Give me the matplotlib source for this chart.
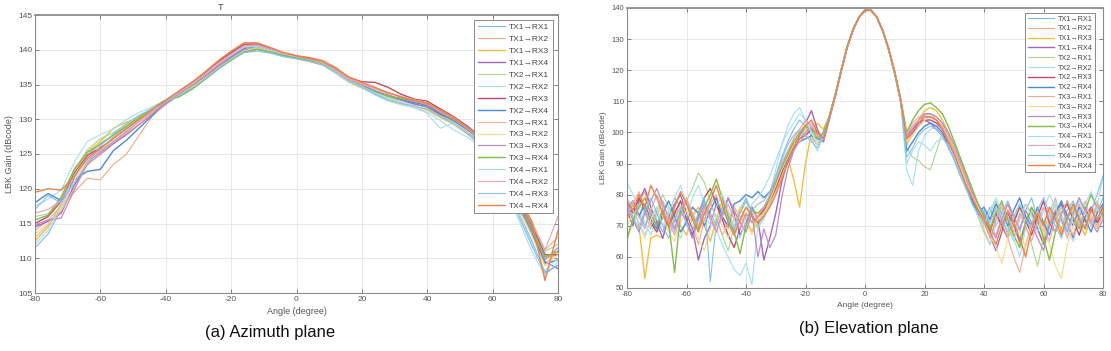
import matplotlib
matplotlib.use("Agg")
import matplotlib.pyplot as plt
import numpy as np

plt.rcParams['font.family'] = ['Liberation Sans', 'DejaVu Sans']
plt.rcParams['axes.unicode_minus'] = False

labels = ["TX1→RX1", "TX1→RX2", "TX1→RX3", "TX1→RX4",
          "TX2→RX1", "TX2→RX2", "TX2→RX3", "TX2→RX4",
          "TX3→RX1", "TX3→RX2", "TX3→RX3", "TX3→RX4",
          "TX4→RX1", "TX4→RX2", "TX4→RX3", "TX4→RX4"]
colors = ["#7fbbe6", "#f2a988", "#f0bf45", "#a468b8", "#add58e", "#a6def4",
          "#c24a68", "#4a8bd0", "#f0ad94", "#f6d98e", "#b98ccc", "#84bb4c",
          "#a8dcf2", "#e9a0b0", "#86c2ea", "#e8844a"]
widths = [0.8, 0.8, 1.0, 1.0, 0.8, 0.8, 1.0, 1.0,
          0.8, 0.8, 0.9, 1.0, 0.8, 0.8, 0.8, 1.0]

# ---------------- (a) Azimuth plane ----------------
az_angle = list(range(-80, 81, 4))
az_s1 = [111.5, 113.5, 117, 121.5, 124.8, 126.5, 127.8, 129, 130.2, 131.3, 132.6, 133.5, 134.6, 135.9, 137.3, 138.5, 139.6, 140, 139.6, 139.1, 138.7, 138.3, 137.8, 136.6, 135.3, 134.5, 133.8, 133.1, 132.6, 132.2, 131.7, 130.5, 129.6, 128.2, 126.7, 125.2, 121.5, 116.5, 112.5, 108, 109]
az_s2 = [114, 115.5, 117.5, 119.5, 121.5, 121.3, 123.5, 125, 127.8, 130.5, 132.1, 133.4, 134.8, 136.4, 138.1, 139.5, 140.6, 140.8, 140.2, 139.6, 139.2, 138.9, 138.5, 137.5, 136, 135.2, 134.4, 133.6, 132.8, 132.5, 132.2, 131.2, 130.3, 129, 127.5, 125.8, 122.3, 118, 114.5, 110, 110.5]
az_s3 = [112.5, 114.5, 117.8, 122.5, 125.3, 126.8, 128.7, 129.6, 130.1, 131.2, 132.4, 133.5, 134.8, 136.1, 137.6, 139, 140.4, 140.6, 140, 139.4, 139, 138.6, 138, 136.8, 135.4, 134.5, 133.6, 132.8, 132.2, 131.8, 131.5, 130.4, 129.5, 128.3, 126.9, 125.4, 122, 117.2, 113.5, 109, 111]
az_s4 = [114.5, 115.3, 116.5, 120.5, 123.5, 125, 126.5, 127.8, 129.3, 130.8, 132.3, 133.6, 134.9, 136.2, 137.5, 138.8, 140, 140.2, 139.8, 139.3, 138.8, 138.4, 138, 136.9, 135.5, 134.6, 133.7, 133.2, 132.7, 132.2, 131.8, 130.7, 129.8, 128.5, 127, 125.5, 122.2, 118, 114.2, 109.5, 108.5]
az_s5 = [116, 116.4, 118.5, 122.7, 125.6, 127.2, 128.1, 129.2, 130.5, 131.5, 132.6, 133.3, 134.5, 135.8, 137.2, 138.6, 139.8, 140.3, 139.9, 139.2, 138.8, 138.4, 137.9, 136.9, 135.7, 134.8, 133.9, 133.2, 132.9, 132.4, 131.9, 130.9, 129.6, 128.7, 127.4, 125.9, 122.8, 118.5, 115, 111, 112]
az_s6 = [117.5, 118.5, 119.8, 123.8, 126.8, 127.8, 128.6, 130, 131, 131.8, 132.8, 134.1, 135.2, 136.6, 138, 139.4, 140.7, 141, 140.4, 139.6, 139, 138.5, 138, 136.9, 135.5, 134.6, 133.5, 132.6, 132.1, 131.6, 131, 129.8, 128.5, 127.5, 126.2, 124.8, 120.5, 115.5, 111, 107.5, 109.5]
az_s7 = [115, 116, 118.2, 122.2, 124.8, 125.9, 127.2, 128.6, 130.1, 131.3, 132.7, 134, 135.3, 136.7, 138.3, 139.6, 140.8, 140.8, 140.1, 139.5, 139.1, 138.8, 138.3, 137.3, 136, 135.4, 135.3, 134.6, 133.6, 132.9, 132.6, 131.5, 130.4, 129.1, 127.6, 126, 122.7, 118.2, 114.8, 110.5, 110.5]
az_s8 = [118, 119.3, 118.3, 121.3, 122.5, 122.8, 125.5, 127, 128.8, 130.6, 132.6, 133.8, 135, 136.3, 137.8, 139, 140.2, 140.5, 140, 139.4, 139, 138.6, 138.2, 137.1, 135.7, 134.9, 134.1, 133.4, 132.9, 132.4, 132, 130.8, 129.9, 128.6, 127.2, 125.7, 122.1, 117.6, 113.8, 109.2, 109.8]
az_s9 = [113, 114.8, 116.8, 120, 123.4, 125.1, 126.7, 128, 129.4, 130.9, 132.5, 133.8, 135.1, 136.5, 138, 139.3, 140.5, 140.6, 140, 139.5, 139.1, 138.7, 138.3, 137.2, 135.9, 135.1, 134.4, 133.8, 133.3, 132.8, 132.4, 131.3, 130.3, 128.9, 127.5, 126.1, 123, 118.8, 115.3, 111.2, 113]
az_s10 = [113.5, 115, 117, 121.2, 124, 125.7, 127.5, 128.9, 130.2, 131.4, 132.5, 133.5, 134.6, 135.9, 137.4, 138.7, 139.9, 140.2, 139.8, 139.3, 138.9, 138.4, 137.9, 136.7, 135.3, 134.5, 133.7, 133, 132.4, 131.8, 131.2, 130.2, 129.2, 127.9, 126.5, 125, 121.6, 117, 113.2, 109, 110.5]
az_s11 = [114.8, 115.5, 115.8, 119.8, 123.8, 125.3, 126.8, 128.2, 129.8, 131.1, 132.4, 133.6, 134.9, 136.2, 137.7, 139.1, 140.3, 140.5, 140, 139.3, 138.9, 138.5, 138.1, 137, 135.6, 134.8, 134, 133.4, 133, 132.6, 132.1, 131, 130, 128.7, 127.3, 125.6, 122.2, 117.8, 114, 109.8, 111.5]
az_s12 = [115.5, 116.2, 118.8, 122.8, 125.2, 126.4, 127.7, 129, 130.3, 131.6, 132.8, 133.2, 134.3, 135.7, 137.2, 138.5, 139.7, 140.1, 139.7, 139.2, 138.8, 138.5, 138, 137, 135.6, 134.7, 133.9, 133.3, 133, 132.7, 132.3, 131.1, 130.1, 128.8, 127.4, 125.9, 122.4, 118, 114.4, 110.2, 111]
az_s13 = [112, 114, 117.5, 122, 124.5, 125.6, 127.1, 128.5, 129.8, 131.2, 132.6, 133.9, 135.1, 136.4, 137.9, 139.2, 140.4, 140.5, 139.9, 139.4, 139, 138.6, 138.1, 137, 135.6, 134.7, 133.8, 133.1, 132.6, 132, 130.8, 128.7, 129.5, 128.4, 127, 125.3, 121.2, 116.4, 112, 108.2, 110]
az_s14 = [116.5, 117, 118.3, 121.8, 124.2, 125.5, 126.8, 128.3, 129.7, 131.1, 132.5, 133.7, 135, 136.4, 137.9, 139.3, 140.6, 140.7, 140.1, 139.5, 139.1, 138.7, 138.2, 137.1, 135.8, 135, 134.5, 133.9, 133.2, 132.6, 132.2, 131.1, 130.1, 128.8, 127.3, 125.8, 122.5, 118.4, 115, 111.2, 116]
az_s15 = [117, 119, 118, 120.8, 123.7, 126.2, 127.9, 129.4, 130.6, 131.6, 132.5, 133.4, 134.5, 135.8, 137.3, 138.6, 139.6, 139.8, 139.5, 139, 138.7, 138.3, 137.8, 136.8, 135.5, 134.6, 133.6, 132.8, 132.3, 131.9, 131.4, 130.3, 129.4, 128, 126.4, 124.9, 120.8, 116, 111.8, 107.8, 109]
az_s16 = [119.5, 120, 119.8, 121.8, 124.4, 125.8, 127.3, 128.7, 130, 131.4, 132.7, 134, 135.3, 136.8, 138.4, 139.8, 141, 141, 140.3, 139.6, 139.1, 138.7, 138.3, 137.3, 136.1, 135.3, 134.6, 133.8, 133.2, 132.7, 132.3, 131.3, 130.2, 128.9, 127.5, 126, 122.8, 118.6, 115.3, 106.8, 114]
az_series = [az_s1, az_s2, az_s3, az_s4, az_s5, az_s6, az_s7, az_s8,
             az_s9, az_s10, az_s11, az_s12, az_s13, az_s14, az_s15, az_s16]

# ---------------- (b) Elevation plane ----------------
el_angle = list(range(-80, 81, 2))
el_s1 = [76, 78, 74, 70, 75, 72, 68, 74, 79, 76, 71, 66, 73, 78, 74, 70, 76, 72, 68, 75, 79, 74, 70,
         74, 80, 86, 92, 97, 101, 104, 102, 99, 96, 100,
         105, 112, 120, 127.5, 133, 137, 139.3, 139.2, 137, 132.5, 126.5, 119, 110,
         97, 99, 103, 105, 105, 104, 102, 98, 93, 88, 83, 78, 75,
         72, 76, 70, 74, 78, 73, 68, 75, 79, 72, 70, 76, 73, 69, 75, 78, 72, 70, 76, 74, 79]
el_s2 = [79, 74, 77, 81, 73, 70, 76, 69, 72, 78, 75, 70, 64, 72, 77, 80, 73, 69, 75, 71, 76, 73, 71,
         76, 79, 84, 89, 94, 97, 99, 101, 103, 100, 98,
         104.5, 111.5, 119.5, 127, 132.8, 136.8, 139.2, 139.4, 137.2, 132.8, 126.8, 119.5, 110.5,
         100, 102, 104, 105.5, 106, 105, 103, 99, 95, 90, 85, 80, 76,
         74, 70, 67, 73, 77, 71, 64, 70, 76, 73, 68, 74, 79, 72, 66, 73, 77, 71, 75, 78, 73]
el_s3 = [72, 77, 70, 53, 66, 67, 66, 72, 75, 70, 67, 73, 76, 70, 65, 72, 78, 74, 69, 76, 72, 68, 73,
         74, 78, 82, 87, 92, 85, 76, 90, 100, 103, 101,
         105, 112, 120, 127.5, 133.2, 137.2, 139.4, 139.3, 136.8, 132.3, 126.2, 118.7, 109.5,
         96, 100, 104, 107, 108, 107, 104, 100, 94, 89, 84, 79, 73,
         68, 64, 72, 76, 70, 66, 73, 77, 74, 69, 65, 71, 75, 68, 72, 76, 71, 67, 73, 70, 75]
el_s4 = [75, 70, 78, 82, 76, 71, 66, 73, 77, 80, 74, 69, 59, 66, 70, 77, 73, 79, 74, 67, 71, 76, 72,
         59, 66, 74, 84, 91, 96, 99, 103, 107, 101, 97,
         104, 111.8, 119.8, 127.3, 133, 137, 139.2, 139.2, 137, 132.6, 126.6, 119.2, 110.2,
         98, 100, 102, 104, 103, 101, 99, 96, 92, 87, 83, 78, 74,
         71, 67, 62, 68, 74, 70, 65, 71, 75, 69, 64, 70, 74, 77, 71, 66, 73, 76, 70, 72, 76]
el_s5 = [65, 72, 77, 74, 69, 75, 80, 76, 71, 73, 78, 82, 87, 84, 78, 72, 67, 62, 70, 74, 78, 73, 69,
         73, 77, 83, 88, 93, 96, 98, 100, 101, 99, 97,
         105.5, 112.3, 120.2, 127.6, 133.1, 137.1, 139.3, 139.3, 137.1, 132.7, 126.8, 119.4, 110.8,
         95, 92, 91, 89, 88, 94, 100, 98, 94, 89, 84, 79, 75,
         70, 74, 78, 73, 67, 72, 76, 70, 64, 57, 66, 72, 77, 73, 69, 75, 79, 74, 70, 76, 72]
el_s6 = [84, 80, 76, 71, 67, 73, 78, 75, 70, 66, 73, 79, 83, 77, 72, 69, 64, 60, 56, 54, 58, 51, 70,
         72, 80, 88, 96, 102, 106, 108, 104, 98, 94, 99,
         105, 112, 120, 127.5, 133, 137, 139.3, 139.3, 137, 132.5, 126.5, 119, 109.8,
         88, 83, 94, 99, 101, 102, 100, 97, 93, 88, 83, 78, 73,
         69, 64, 70, 75, 72, 66, 60, 69, 75, 71, 67, 73, 78, 74, 69, 65, 72, 77, 81, 76, 86]
el_s7 = [77, 74, 79, 75, 71, 68, 73, 70, 74, 78, 72, 67, 74, 79, 82, 77, 72, 67, 63, 69, 74, 71, 73,
         75, 78, 82, 87, 92, 96, 98, 99, 101, 100, 98,
         104.8, 111.7, 119.7, 127.4, 133, 137, 139.2, 139.3, 137.1, 132.6, 126.5, 119.1, 110.3,
         99, 101, 103, 104, 104, 103, 101, 97, 93, 88, 84, 79, 75,
         73, 68, 74, 70, 66, 71, 76, 72, 67, 73, 78, 71, 68, 74, 77, 72, 67, 73, 76, 71, 74]
el_s8 = [75, 78, 73, 77, 72, 69, 74, 78, 73, 68, 71, 76, 74, 70, 75, 79, 73, 70, 77, 78, 80, 79, 81,
         79, 81, 84, 88, 92, 95, 97, 98, 99, 98, 97,
         105.2, 112, 120, 127.6, 133.1, 137.1, 139.4, 139.3, 137, 132.5, 126.4, 118.9, 110,
         94, 97, 100, 102, 103, 102, 100, 96, 92, 87, 82, 78, 74,
         76, 72, 77, 74, 70, 75, 79, 73, 70, 76, 71, 67, 74, 78, 73, 70, 76, 72, 68, 74, 77]
el_s9 = [73, 77, 81, 76, 70, 74, 78, 72, 68, 75, 79, 74, 69, 72, 77, 73, 67, 71, 76, 73, 70, 75, 72,
         74, 77, 81, 86, 90, 94, 97, 99, 98, 96, 99,
         104.6, 111.6, 119.6, 127.2, 132.9, 136.9, 139.1, 139.3, 137.2, 132.9, 127, 119.6, 110.6,
         100, 103, 105, 106, 106, 104, 101, 97, 93, 88, 84, 79, 76,
         73, 69, 75, 71, 66, 60, 55, 64, 71, 75, 70, 65, 72, 76, 71, 67, 74, 78, 72, 69, 74]
el_s10 = [70, 74, 71, 66, 72, 76, 73, 68, 65, 71, 75, 70, 66, 62, 69, 73, 70, 66, 72, 76, 71, 67, 72,
          74, 78, 83, 88, 92, 96, 100, 103, 100, 96, 98,
          104.9, 111.9, 119.9, 127.5, 133, 137, 139.3, 139.2, 136.9, 132.4, 126.3, 118.8, 109.7,
          97, 99, 102, 104, 105, 104, 102, 98, 94, 89, 84, 80, 76,
          72, 67, 63, 58, 66, 71, 68, 63, 70, 74, 69, 64, 57, 53, 64, 70, 74, 69, 73, 77, 71]
el_s11 = [76, 72, 68, 74, 78, 82, 77, 73, 69, 75, 71, 66, 72, 77, 73, 68, 74, 79, 75, 71, 68, 74, 60,
          69, 63, 67, 79, 88, 94, 98, 100, 102, 99, 97,
          105, 112.1, 120.1, 127.6, 133.1, 137.1, 139.3, 139.3, 137, 132.5, 126.5, 119, 110,
          98, 101, 104, 106, 106, 105, 103, 100, 96, 91, 86, 81, 77,
          74, 70, 66, 72, 77, 73, 69, 75, 71, 66, 62, 70, 75, 72, 68, 74, 79, 75, 71, 68, 72]
el_s12 = [66, 72, 76, 79, 74, 70, 75, 71, 55, 74, 78, 73, 69, 76, 80, 85, 79, 73, 68, 61, 70, 75, 74,
          76, 79, 84, 89, 93, 97, 100, 102, 101, 98, 100,
          105.3, 112.2, 120.3, 127.7, 133.2, 137.2, 139.4, 139.4, 137.2, 132.8, 126.9, 119.6, 110.7,
          100, 104, 107, 109, 109.5, 108, 106, 102, 97, 92, 87, 82, 77,
          73, 69, 74, 78, 72, 67, 63, 71, 76, 72, 66, 59, 68, 74, 78, 73, 69, 75, 80, 76, 73]
el_s13 = [79, 75, 71, 67, 72, 76, 70, 74, 79, 83, 77, 72, 68, 74, 70, 76, 80, 75, 70, 66, 72, 77, 79,
          82, 86, 91, 96, 100, 103, 106, 104, 100, 97, 98,
          105, 112, 120, 127.5, 133, 137, 139.3, 139.3, 137, 132.5, 126.5, 119, 110,
          90, 94, 97, 96, 94, 97, 98, 96, 92, 87, 82, 77, 73,
          70, 75, 79, 74, 69, 65, 72, 77, 73, 68, 75, 80, 76, 71, 67, 73, 78, 74, 70, 76, 72]
el_s14 = [74, 78, 73, 69, 75, 80, 76, 71, 67, 73, 78, 74, 70, 76, 72, 68, 73, 77, 72, 69, 74, 71, 73,
          76, 80, 85, 90, 94, 98, 101, 104, 102, 99, 98,
          104.7, 111.7, 119.7, 127.3, 132.9, 136.9, 139.2, 139.4, 137.1, 132.7, 126.7, 119.3, 110.4,
          99, 102, 104, 105, 105, 104, 102, 98, 94, 90, 85, 80, 75,
          71, 66, 72, 77, 73, 68, 74, 70, 65, 71, 76, 72, 68, 74, 78, 73, 70, 75, 71, 77, 74]
el_s15 = [77, 73, 69, 75, 79, 74, 70, 66, 72, 76, 71, 68, 74, 79, 52, 71, 75, 72, 69, 74, 78, 75, 77,
          78, 81, 86, 91, 96, 99, 101, 99, 97, 95, 99,
          105.1, 112, 120, 127.5, 133, 137, 139.3, 139.3, 137, 132.5, 126.5, 119, 110,
          92, 95, 99, 101, 102, 101, 99, 95, 91, 86, 82, 77, 74,
          75, 71, 76, 72, 68, 73, 77, 72, 69, 75, 79, 74, 70, 66, 72, 77, 73, 69, 75, 80, 86]
el_s16 = [78, 75, 80, 76, 83, 79, 74, 70, 76, 81, 77, 72, 68, 74, 78, 83, 77, 71, 67, 72, 76, 73, 71,
          73, 76, 80, 85, 90, 95, 99, 102, 104, 100, 98,
          104.8, 111.8, 119.8, 127.4, 133, 137, 139.3, 139.3, 137, 132.6, 126.6, 119.2, 110.2,
          98, 100, 103, 105, 105, 104, 101, 97, 93, 88, 83, 79, 75,
          72, 68, 64, 70, 75, 71, 66, 60, 69, 74, 70, 76, 72, 67, 73, 77, 72, 69, 75, 72, 76]
el_series = [el_s1, el_s2, el_s3, el_s4, el_s5, el_s6, el_s7, el_s8,
             el_s9, el_s10, el_s11, el_s12, el_s13, el_s14, el_s15, el_s16]

az_yticks = [105, 110, 115, 120, 125, 130, 135, 140, 145]
el_yticks = [50, 60, 70, 80, 90, 100, 110, 120, 130, 140]
xticks = [-80, -60, -40, -20, 0, 20, 40, 60, 80]

W, H = 1111, 351
fig = plt.figure(figsize=(W / 100, H / 100), dpi=100)

def make_axes(x0, x1, ytop, ybot):
    return fig.add_axes([x0 / W, 1 - ybot / H, (x1 - x0) / W, (ybot - ytop) / H])

def style(ax, yticks, ylim, fs):
    ax.set_xlim(-80, 80)
    ax.set_ylim(*ylim)
    ax.set_xticks(xticks)
    ax.set_yticks(yticks)
    ax.grid(True, color="#e4e4e4", linewidth=0.6)
    ax.set_axisbelow(True)
    ax.tick_params(direction="in", length=3, width=0.5, colors="#555555",
                   labelsize=fs, top=True, right=True, pad=2)
    for side, sp in ax.spines.items():
        sp.set_color("#8a8a8a")
        sp.set_linewidth(0.8)
    ax.spines["top"].set_linewidth(1.3)
    ax.spines["top"].set_color("#8f8f8f")

ax1 = make_axes(35, 558, 15, 293)
for s, c, w, lab in zip(az_series, colors, widths, labels):
    ax1.plot(az_angle, s, color=c, lw=w, label=lab)
style(ax1, az_yticks, (105, 145), 6)
ax1.set_xlabel("Angle (degree)", fontsize=6.5, color="#555555", labelpad=3)
ax1.set_ylabel("LBK Gain (dBcode)", fontsize=6.5, color="#555555", labelpad=3)
leg1 = ax1.legend(loc="upper right", bbox_to_anchor=(0.99, 0.982), fontsize=6,
                  labelspacing=0.49, handlelength=3.3, handletextpad=0.5,
                  borderpad=0.4, borderaxespad=0, fancybox=False,
                  edgecolor="#777777", framealpha=1)
leg1.get_frame().set_linewidth(0.6)
for t in leg1.get_texts():
    t.set_color("#444444")

ax2 = make_axes(627, 1103, 8, 288)
for s, c, w, lab in zip(el_series, colors, widths, labels):
    ax2.plot(el_angle, s, color=c, lw=w, label=lab)
style(ax2, el_yticks, (50, 140), 5.5)
ax2.set_xlabel("Angle (degree)", fontsize=6, color="#555555", labelpad=3)
ax2.set_ylabel("LBK Gain (dBcode)", fontsize=6, color="#555555", labelpad=3)
leg2 = ax2.legend(loc="upper right", bbox_to_anchor=(0.983, 0.982), fontsize=5.2,
                  labelspacing=0.38, handlelength=3.6, handletextpad=0.5,
                  borderpad=0.35, borderaxespad=0, fancybox=False,
                  edgecolor="#777777", framealpha=1)
leg2.get_frame().set_linewidth(0.6)
for t in leg2.get_texts():
    t.set_color("#444444")

fig.text(220 / W, 1 - 7 / H, "T", fontsize=6.5, color="#444444", ha="center", va="center")
fig.text(270 / W, 1 - 333 / H, "(a) Azimuth plane", fontsize=12, color="#111111",
         ha="center", va="center")
fig.text(869 / W, 1 - 329 / H, "(b) Elevation plane", fontsize=12, color="#111111",
         ha="center", va="center")

fig.savefig("out.png", dpi=100)
